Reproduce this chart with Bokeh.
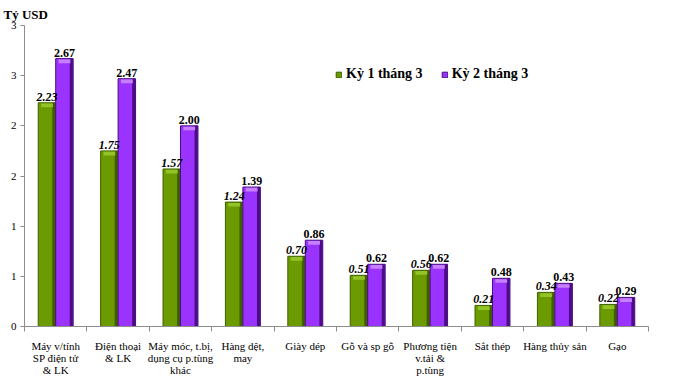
from bokeh.plotting import figure
from bokeh.models import (Range1d, LinearAxis, FixedTicker, CustomJSTickFormatter,
                          Legend, LegendItem, ColumnDataSource)
from bokeh.core.properties import value
from bokeh.embed import file_html
from bokeh.resources import INLINE

categories = ["Máy v/tính\nSP điện tử\n& LK", "Điện thoại\n& LK",
              "Máy móc, t.bị,\ndụng cụ p.tùng\nkhác", "Hàng dệt,\nmay", "Giày dép",
              "Gỗ và sp gỗ", "Phương tiện\nv.tải &\np.tùng", "Sắt thép",
              "Hàng thủy sản", "Gạo"]
ky1 = [2.23, 1.75, 1.57, 1.24, 0.70, 0.51, 0.56, 0.21, 0.34, 0.22]
ky2 = [2.67, 2.47, 2.00, 1.39, 0.86, 0.62, 0.62, 0.48, 0.43, 0.29]
series_names = ["Kỳ 1 tháng 3", "Kỳ 2 tháng 3"]
y_ticks = [0, 0.5, 1.0, 1.5, 2.0, 2.5, 3.0]
unit_title = "Tỷ USD"

FONT = "Liberation Serif"
GREEN, GREEN_D, GREEN_L = "#6b9b00", "#3f5e00", "#93c425"
PURP, PURP_D, PURP_L = "#9b33ff", "#4c0c85", "#c680ff"

n = len(categories)
p = figure(width=681, height=378, x_range=Range1d(0, n), y_range=Range1d(0, 3),
           output_backend="svg", toolbar_location=None, x_axis_type=None, y_axis_type=None,
           min_border_left=24, min_border_right=33, min_border_top=25, min_border_bottom=50)
p.outline_line_color = None
p.xgrid.visible = False
p.ygrid.visible = False

p.title.text = unit_title
p.title.align = "left"
p.title.offset = -21
p.title.standoff = 8
p.title.text_font = FONT
p.title.text_font_style = "bold"
p.title.text_font_size = "13px"
p.title.text_color = "black"

# axes
yax = LinearAxis(ticker=FixedTicker(ticks=y_ticks, minor_ticks=[]),
                 formatter=CustomJSTickFormatter(code="return Math.round(tick).toFixed(0)"))
yax.axis_line_color = "#8c8c8c"
yax.major_tick_line_color = "#8c8c8c"
yax.major_tick_out = 4
yax.major_tick_in = 0
yax.major_label_standoff = 4
yax.major_label_text_font = FONT
yax.major_label_text_font_size = "11px"
yax.major_label_text_color = "black"
p.add_layout(yax, "left")

centers = [i + 0.5 for i in range(n)]
xax = LinearAxis(ticker=FixedTicker(ticks=centers, minor_ticks=list(range(n + 1))),
                 formatter=CustomJSTickFormatter(args=dict(labels=categories),
                                                 code="return labels[Math.floor(tick)]"))
xax.axis_line_color = "#8c8c8c"
xax.major_tick_out = 0
xax.major_tick_in = 0
xax.minor_tick_line_color = "#8c8c8c"
xax.minor_tick_out = 5
xax.minor_tick_in = 0
xax.major_label_standoff = 8
xax.major_label_text_font = FONT
xax.major_label_text_font_size = "11px"
xax.major_label_text_line_height = 1.0
xax.major_label_text_color = "black"
p.add_layout(xax, "below")

bw = 0.28
x1 = [c - bw / 2 for c in centers]
x2 = [c + bw / 2 for c in centers]


def bars(xs, vals, main, dark, light):
    src = ColumnDataSource(dict(x=xs, top=vals,
                                xe=[x + bw / 2 - 0.03 for x in xs],
                                hb=[v - 0.045 for v in vals],
                                ht=[v - 0.008 for v in vals]))
    r = p.vbar(x="x", top="top", bottom=0, width=bw, source=src,
               fill_color=main, line_color=dark, line_width=1)
    p.vbar(x="xe", top="top", bottom=0, width=0.05, source=src,
           fill_color=dark, line_color=None)
    p.vbar(x="x", top="ht", bottom="hb", width=bw - 0.09, source=src,
           fill_color=light, line_color=None)
    return r


r1 = bars(x1, ky1, GREEN, GREEN_D, GREEN_L)
r2 = bars(x2, ky2, PURP, PURP_D, PURP_L)

# value labels
p.text(x=x1, y=ky1, text=[f"{v:.2f}" for v in ky1], text_font=value(FONT),
       text_font_style="bold italic", text_font_size="12px", text_align="center",
       text_baseline="alphabetic", y_offset=-6, text_color="black")
p.text(x=x2, y=ky2, text=[f"{v:.2f}" for v in ky2], text_font=value(FONT),
       text_font_style="bold", text_font_size="12px", text_align="center",
       text_baseline="alphabetic", y_offset=-6, text_color="black")

legend = Legend(items=[LegendItem(label=series_names[0], renderers=[r1]),
                       LegendItem(label=series_names[1], renderers=[r2])],
                orientation="horizontal", location=(311, 244),
                glyph_width=7, glyph_height=7, label_standoff=4, spacing=18,
                padding=0, margin=0, border_line_color=None, background_fill_alpha=0,
                label_text_font=FONT, label_text_font_style="bold",
                label_text_font_size="14px", label_text_color="black")
p.add_layout(legend)

open("out.html", "w").write(file_html(p, INLINE))
